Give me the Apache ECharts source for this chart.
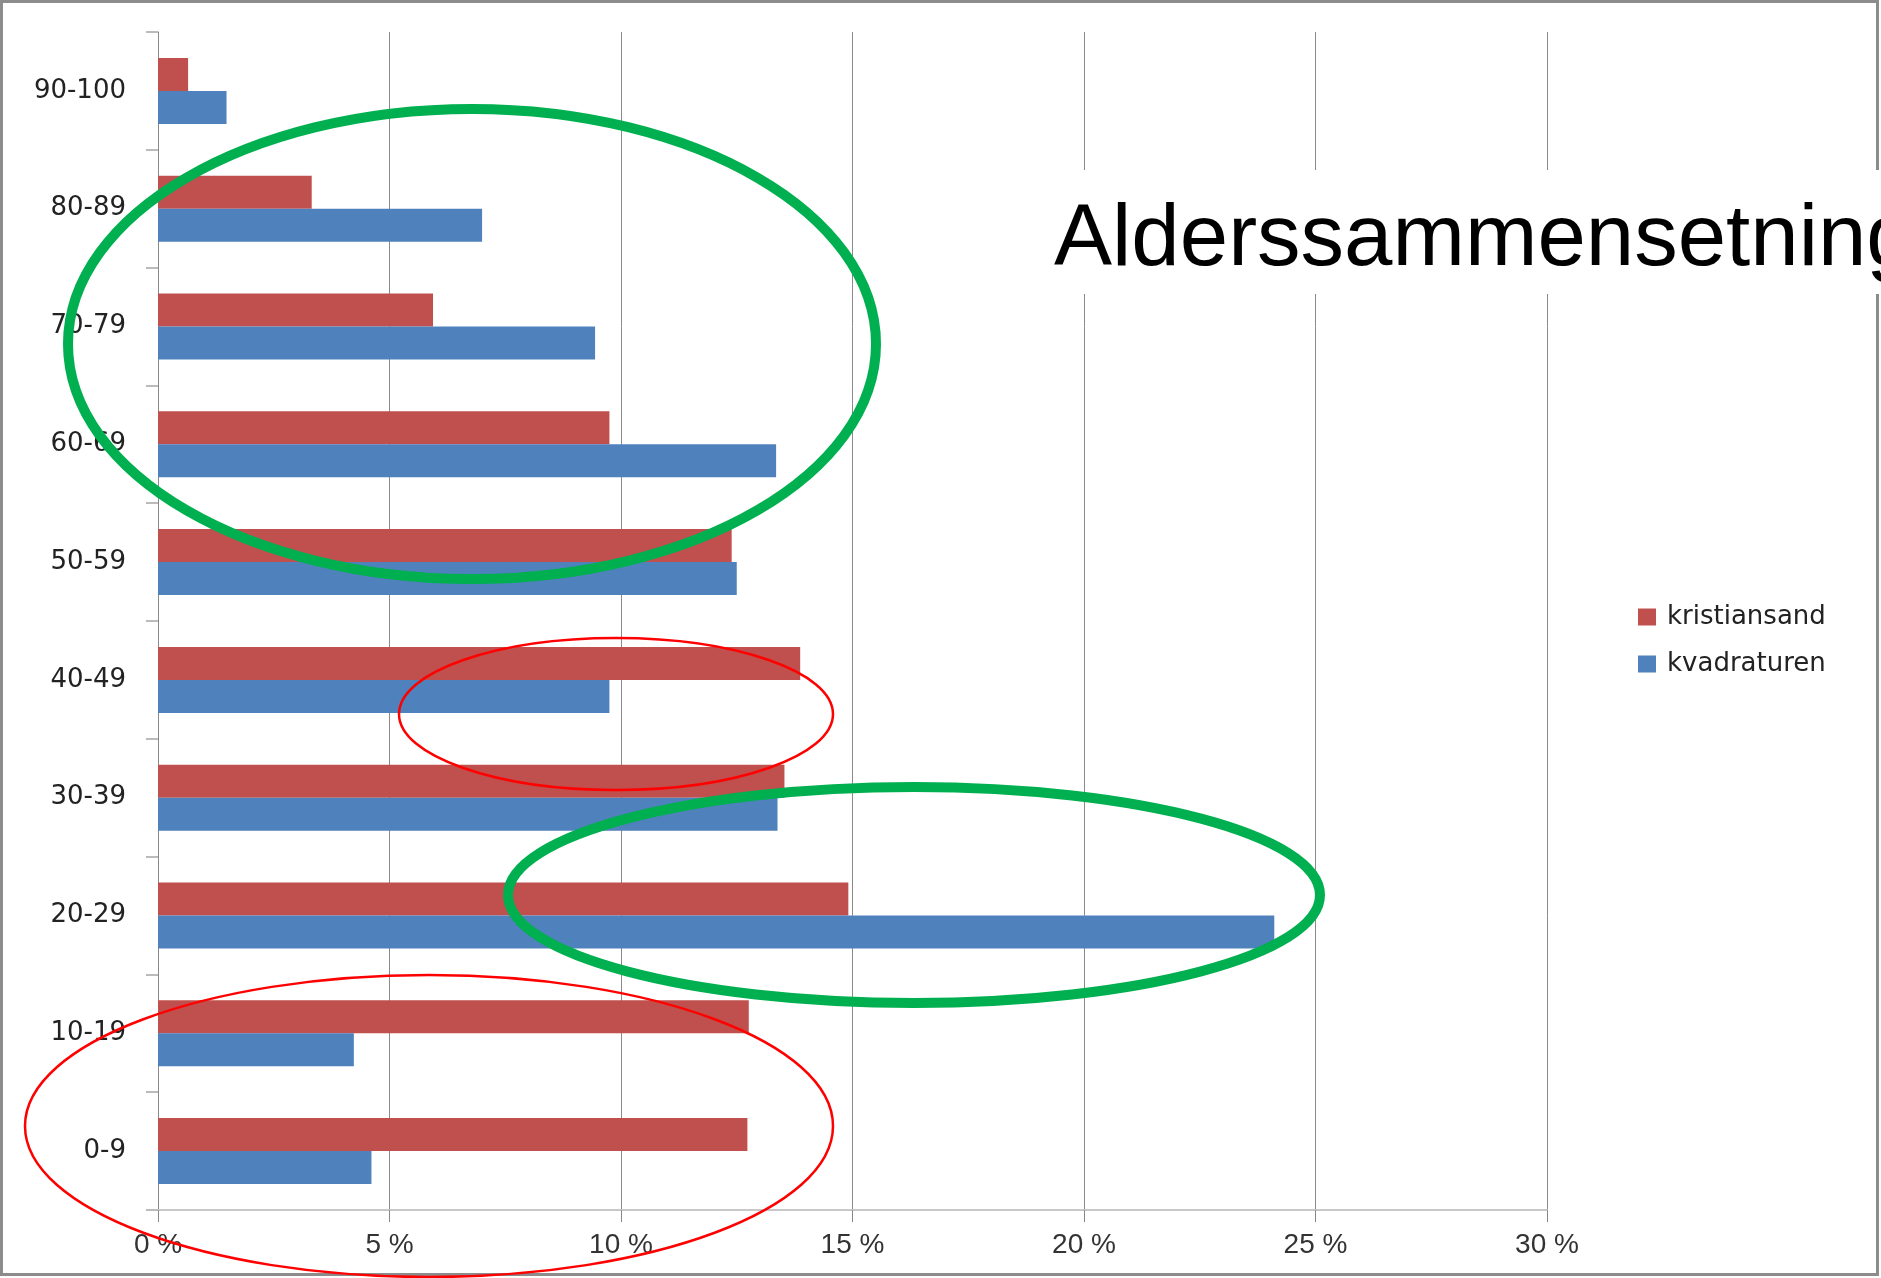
<!DOCTYPE html>
<html>
<head>
<meta charset="utf-8">
<script src="https://cdn.jsdelivr.net/npm/echarts@6/dist/echarts.min.js"></script>
<style>
  html, body { margin: 0; padding: 0; background: #fff; }
  #chart { width: 1881px; height: 1278px; }
</style>
</head>
<body>
<div id="chart"></div>
<script>
// aldersgrupper, fra bunn til topp
var ageGroups = ['0-9', '10-19', '20-29', '30-39', '40-49', '50-59', '60-69', '70-79', '80-89', '90-100'];
var kristiansand = [12.73, 12.76, 14.91, 13.53, 13.87, 12.39, 9.75, 5.94, 3.32, 0.65];
var kvadraturen = [4.61, 4.23, 24.11, 13.38, 9.75, 12.5, 13.35, 9.44, 7.0, 1.48];
var xTicks = [0, 5, 10, 15, 20, 25, 30];
var titleText = 'Alderssammensetning';

var chart = echarts.init(document.getElementById('chart'));

var option = {
  animation: false,
  backgroundColor: '#fff',
  grid: {
    left: 158,
    right: 334,
    top: 32,
    bottom: 68
  },
  legend: {
    orient: 'vertical',
    left: 1633,
    top: 599,
    icon: 'rect',
    itemWidth: 18,
    itemHeight: 17,
    itemGap: 21,
    textStyle: {
      fontFamily: 'DejaVu Sans',
      fontSize: 26,
      color: '#222',
      padding: [0, 0, 0, 6]
    },
    data: ['kristiansand', 'kvadraturen']
  },
  xAxis: {
    type: 'value',
    min: xTicks[0],
    max: xTicks[xTicks.length - 1],
    interval: 5,
    axisLine: { show: true, lineStyle: { color: '#c8c8c8', width: 2 } },
    axisTick: { show: true, length: 12, lineStyle: { color: '#888' } },
    splitLine: { show: true, lineStyle: { color: '#8a8a8a', width: 1 } },
    axisLabel: {
      margin: 21,
      fontFamily: 'Liberation Sans',
      fontSize: 28,
      color: '#333',
      formatter: function (v) { return v + ' %'; }
    }
  },
  yAxis: {
    type: 'category',
    data: ageGroups,
    axisLine: { show: true, lineStyle: { color: '#8a8a8a', width: 1 } },
    axisTick: { show: true, length: 12, lineStyle: { color: '#bbb', width: 2 } },
    axisLabel: {
      margin: 32,
      fontFamily: 'DejaVu Sans',
      fontSize: 26,
      color: '#222'
    }
  },
  series: [
    {
      name: 'kristiansand',
      type: 'bar',
      data: kristiansand,
      barWidth: 33,
      barGap: '0%',
      itemStyle: { color: '#c0504d' }
    },
    {
      name: 'kvadraturen',
      type: 'bar',
      data: kvadraturen,
      barWidth: 33,
      barGap: '0%',
      itemStyle: { color: '#4f81bd' }
    }
  ],
  graphic: [
    // ramme rundt lysbildet
    { type: 'rect', z: 100, shape: { x: 1.5, y: 1.5, width: 1876, height: 1273 },
      style: { fill: null, stroke: '#8c8c8c', lineWidth: 3 } },
    // tittelboks
    { type: 'rect', z: 101, shape: { x: 1010, y: 170, width: 871, height: 124 },
      style: { fill: '#fff' } },
    { type: 'text', z: 102, x: 1054, y: 241,
      style: { text: titleText, fontFamily: 'Liberation Sans', fontSize: 87, fill: '#000',
        verticalAlign: 'middle', align: 'left' } },
    // markeringer
    { type: 'ellipse', z: 110, shape: { cx: 472, cy: 344, rx: 404, ry: 235 },
      style: { fill: null, stroke: '#00b050', lineWidth: 10 } },
    { type: 'ellipse', z: 110, shape: { cx: 616, cy: 714, rx: 217, ry: 76 },
      style: { fill: null, stroke: '#ff0000', lineWidth: 2.5 } },
    { type: 'ellipse', z: 110, shape: { cx: 914, cy: 895, rx: 406, ry: 108 },
      style: { fill: null, stroke: '#00b050', lineWidth: 10 } },
    { type: 'ellipse', z: 110, shape: { cx: 429, cy: 1126, rx: 404, ry: 151 },
      style: { fill: null, stroke: '#ff0000', lineWidth: 2.5 } }
  ]
};

chart.setOption(option);
</script>
</body>
</html>
